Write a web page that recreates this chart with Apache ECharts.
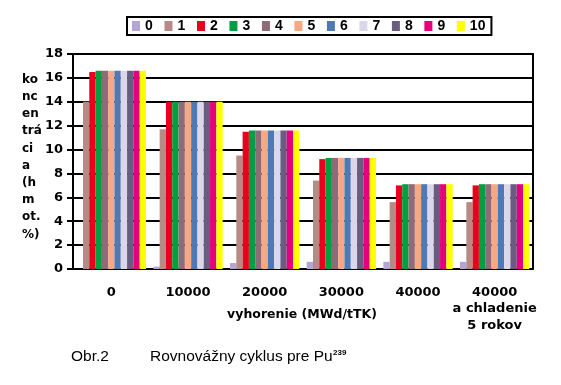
<!DOCTYPE html>
<html>
<head>
<meta charset="utf-8">
<script src="https://cdn.jsdelivr.net/npm/echarts@6/dist/echarts.min.js"></script>
<style>html,body{margin:0;padding:0;background:#fff}#c{width:561px;height:385px}</style>
</head>
<body>
<div id="c"></div>
<script>
const categories = ['0', '10000', '20000', '30000', '40000', '40000\na chladenie\n5 rokov'];
const seriesNames = ['0', '1', '2', '3', '4', '5', '6', '7', '8', '9', '10'];
const yTicks = [0, 2, 4, 6, 8, 10, 12, 14, 16, 18];
const s0 = [0, 0.2, 0.5, 0.6, 0.6, 0.6];
const s1 = [14.0, 11.7, 9.5, 7.4, 5.6, 5.6];
const s2 = [16.5, 14.0, 11.5, 9.2, 7.0, 7.0];
const s3 = [16.6, 14.0, 11.6, 9.3, 7.1, 7.1];
const s4 = [16.6, 14.0, 11.6, 9.3, 7.1, 7.1];
const s5 = [16.6, 14.0, 11.6, 9.3, 7.1, 7.1];
const s6 = [16.6, 14.0, 11.6, 9.3, 7.1, 7.1];
const s7 = [16.6, 14.0, 11.6, 9.3, 7.1, 7.1];
const s8 = [16.6, 14.0, 11.6, 9.3, 7.1, 7.1];
const s9 = [16.6, 14.0, 11.6, 9.3, 7.1, 7.1];
const s10 = [16.6, 14.0, 11.6, 9.3, 7.1, 7.1];
const allSeries = [s0, s1, s2, s3, s4, s5, s6, s7, s8, s9, s10];
const colors = ['#b3a6d6', '#b88a86', '#e8001c', '#00a040', '#8f6a78', '#f5a882', '#4d7ab5', '#dcd6ea', '#6a5c80', '#e6007e', '#ffff00'];
const yName = 'ko\nnc\nen\ntrá\nci\na\n(h\nm\not.\n%)';
const xName = 'vyhorenie (MWd/tTK)';
const captionLabel = 'Obr.2';
const captionText = 'Rovnovážny cyklus pre Pu';
const captionSup = '239';

const F = '"DejaVu Sans", sans-serif';
const A = '"Liberation Sans", Arial, sans-serif';
const chart = echarts.init(document.getElementById('c'), null, {renderer: 'canvas'});
chart.setOption({
  animation: false,
  color: colors,
  legend: {
    data: seriesNames,
    left: 127, top: 17,
    orient: 'horizontal',
    itemWidth: 8, itemHeight: 10, itemGap: 11.7,
    icon: 'rect',
    borderColor: '#000', borderWidth: 2, padding: [2, 6, 2, 5],
    textStyle: {fontFamily: A, fontWeight: 'bold', fontSize: 14, color: '#000'}
  },
  grid: {left: 73, right: 28, top: 54, bottom: 116, show: true, borderColor: '#000', borderWidth: 2, backgroundColor: 'transparent'},
  xAxis: {
    type: 'category', data: categories,
    axisLine: {lineStyle: {color: '#000', width: 2}},
    axisTick: {show: false},
    axisLabel: {color: '#000', fontFamily: F, fontWeight: 'bold', fontSize: 13, lineHeight: 16.7, margin: 15, interval: 0}
  },
  yAxis: {
    type: 'value', min: 0, max: 18, interval: 2,
    axisLine: {show: true, lineStyle: {color: '#000', width: 2}},
    axisTick: {show: true, inside: false, length: 6, lineStyle: {color: '#000', width: 2}},
    axisLabel: {color: '#000', fontFamily: F, fontWeight: 'bold', fontSize: 13, margin: 10,
      formatter: v => yTicks.includes(v) ? String(v) : ''},
    splitLine: {show: true, lineStyle: {color: '#000', width: 2}}
  },
  series: allSeries.map((d, i) => ({
    name: seriesNames[i], type: 'bar', data: d,
    barGap: '0%', barCategoryGap: '9.6%',
    itemStyle: {color: colors[i]}
  })),
  graphic: [
    {type: 'text', left: 22, top: 71, style: {text: yName, font: 'bold 12px ' + F, fill: '#000', lineHeight: 17.2}},
    {type: 'text', x: 302, y: 315, style: {text: xName, font: 'bold 12.5px ' + F, fill: '#000', align: 'center', verticalAlign: 'middle'}},
    {type: 'text', left: 71, top: 349, style: {text: captionLabel, font: '15.5px ' + A, fill: '#000'}},
    {type: 'text', left: 150, top: 349, style: {text: captionText, font: '15.5px ' + A, fill: '#000'}},
    {type: 'text', left: 333, top: 349, style: {text: captionSup, font: 'bold 8px ' + A, fill: '#000'}}
  ]
});
</script>
</body>
</html>
